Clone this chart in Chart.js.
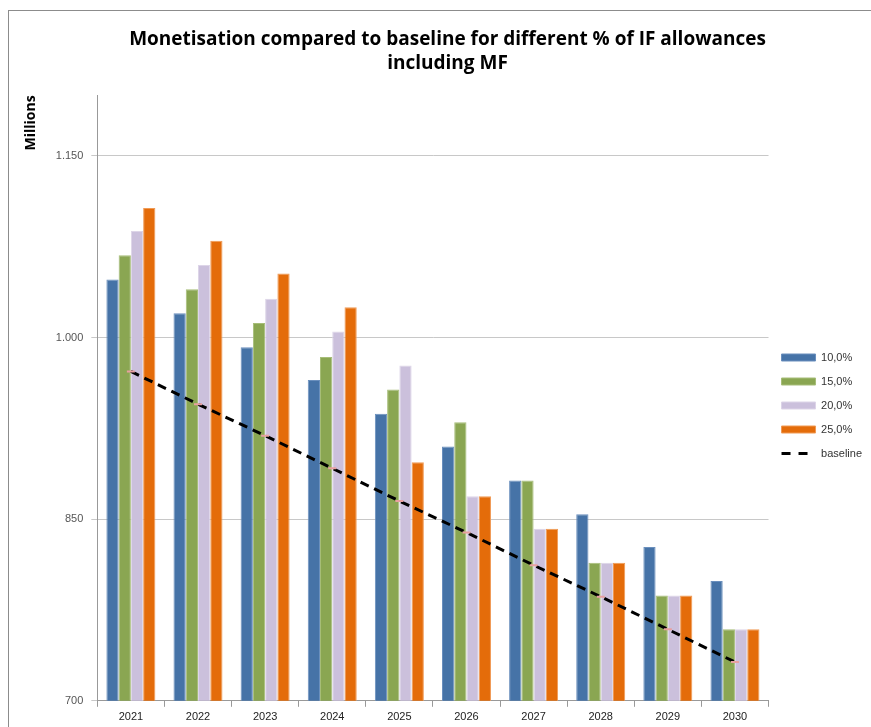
<!DOCTYPE html>
<html>
<head>
<meta charset="utf-8">
<script src="https://cdn.jsdelivr.net/npm/chart.js@4"></script>
<style>
    body { margin: 0; background: #fff; }
    #frame {
        position: absolute; left: 8px; top: 10px;
        width: 863px; height: 717px;
        border-left: 1px solid #8c8c8c; border-top: 1px solid #8c8c8c;
    }
</style>
</head>
<body>
<div id="frame"><canvas id="chart" width="863" height="717"></canvas></div>
<script>
// chart data
const years = ['2021', '2022', '2023', '2024', '2025', '2026', '2027', '2028', '2029', '2030'];
const pct10 = [1048, 1020, 992, 965, 937, 910, 882, 854, 827, 799];
const pct15 = [1068, 1040, 1012, 984, 957, 930, 882, 814, 787, 759];
const pct20 = [1088, 1060, 1032, 1005, 977, 869, 842, 814, 787, 759];
const pct25 = [1107, 1080, 1053, 1025, 897, 869, 842, 814, 787, 759];
const baseline = [972, 945, 919, 892, 865, 839, 812, 786, 759, 732];
const yTicks = [700, 850, 1000, 1150];

function barSet(label, values, color, edge) {
    return {
        type: 'bar',
        label: label,
        data: values,
        backgroundColor: color,
        borderColor: edge,
        borderWidth: 1,
        pointStyle: 'rect',
        categoryPercentage: 0.73,
        barPercentage: 1,
        order: 2
    };
}

// nudge the legend down so it sits where the original has it
const legendShift = {
    id: 'legendShift',
    afterLayout(chart) {
        chart.legend.top += 34;
        chart.legend.bottom += 34;
    }
};

const ctx = document.getElementById('chart').getContext('2d');
new Chart(ctx, {
    data: {
        labels: years,
        datasets: [
            barSet('10,0%', pct10, '#4673a7', '#6a8fbd'),
            barSet('15,0%', pct15, '#8aa652', '#a6bd78'),
            barSet('20,0%', pct20, '#cbc0dc', '#ddd5e8'),
            barSet('25,0%', pct25, '#e46c0a', '#f09a55'),
            {
                type: 'line',
                label: 'baseline',
                data: baseline,
                borderColor: '#000',
                backgroundColor: '#000',
                borderWidth: 3,
                borderDash: [9, 6],
                pointStyle: 'line',
                pointRadius: 4,
                pointBorderColor: '#e8a0a0',
                pointBorderWidth: 2,
                fill: false,
                order: 1
            }
        ]
    },
    plugins: [legendShift],
    options: {
        responsive: false,
        animation: false,
        layout: { padding: { left: 14, right: 0, top: 4, bottom: 0 } },
        plugins: {
            title: {
                display: true,
                text: ['Monetisation compared to baseline for different % of IF allowances', 'including MF'],
                font: { family: 'Open Sans', size: 19, weight: 'bold', lineHeight: 1.3 },
                color: '#000',
                padding: { top: 12, bottom: 19 }
            },
            legend: {
                position: 'right',
                labels: {
                    usePointStyle: true,
                    pointStyleWidth: 34,
                    boxWidth: 34,
                    boxHeight: 7,
                    padding: 13,
                    color: '#333',
                    font: { family: 'Liberation Sans', size: 11 },
                    sort: (a, b) => a.datasetIndex - b.datasetIndex,
                    generateLabels: chart => {
                        const items = Chart.defaults.plugins.legend.labels.generateLabels(chart);
                        items.forEach(item => {
                            if (item.text === 'baseline') {
                                item.strokeStyle = '#000';
                                item.lineWidth = 3;
                                item.lineDash = [9, 8];
                            }
                        });
                        return items;
                    }
                }
            },
            tooltip: { enabled: false }
        },
        scales: {
            x: {
                grid: { drawOnChartArea: false, tickLength: 6, color: '#999' },
                border: { color: '#999' },
                ticks: { color: '#222', font: { family: 'Liberation Sans', size: 11 }, padding: 4 }
            },
            y: {
                min: 700,
                max: 1200,
                afterBuildTicks: axis => { axis.ticks = yTicks.map(v => ({ value: v })); },
                grid: { color: '#c8c8c8', tickLength: 6 },
                border: { color: '#999' },
                ticks: {
                    color: '#555',
                    padding: 8,
                    font: { family: 'Liberation Sans', size: 11 },
                    callback: v => v.toLocaleString('de-DE')
                },
                title: {
                    display: true,
                    text: 'Millions',
                    align: 'end',
                    color: '#000',
                    font: { family: 'Open Sans', size: 14, weight: 'bold' },
                    padding: { top: 0, bottom: 8 }
                }
            }
        }
    }
});
</script>
</body>
</html>
